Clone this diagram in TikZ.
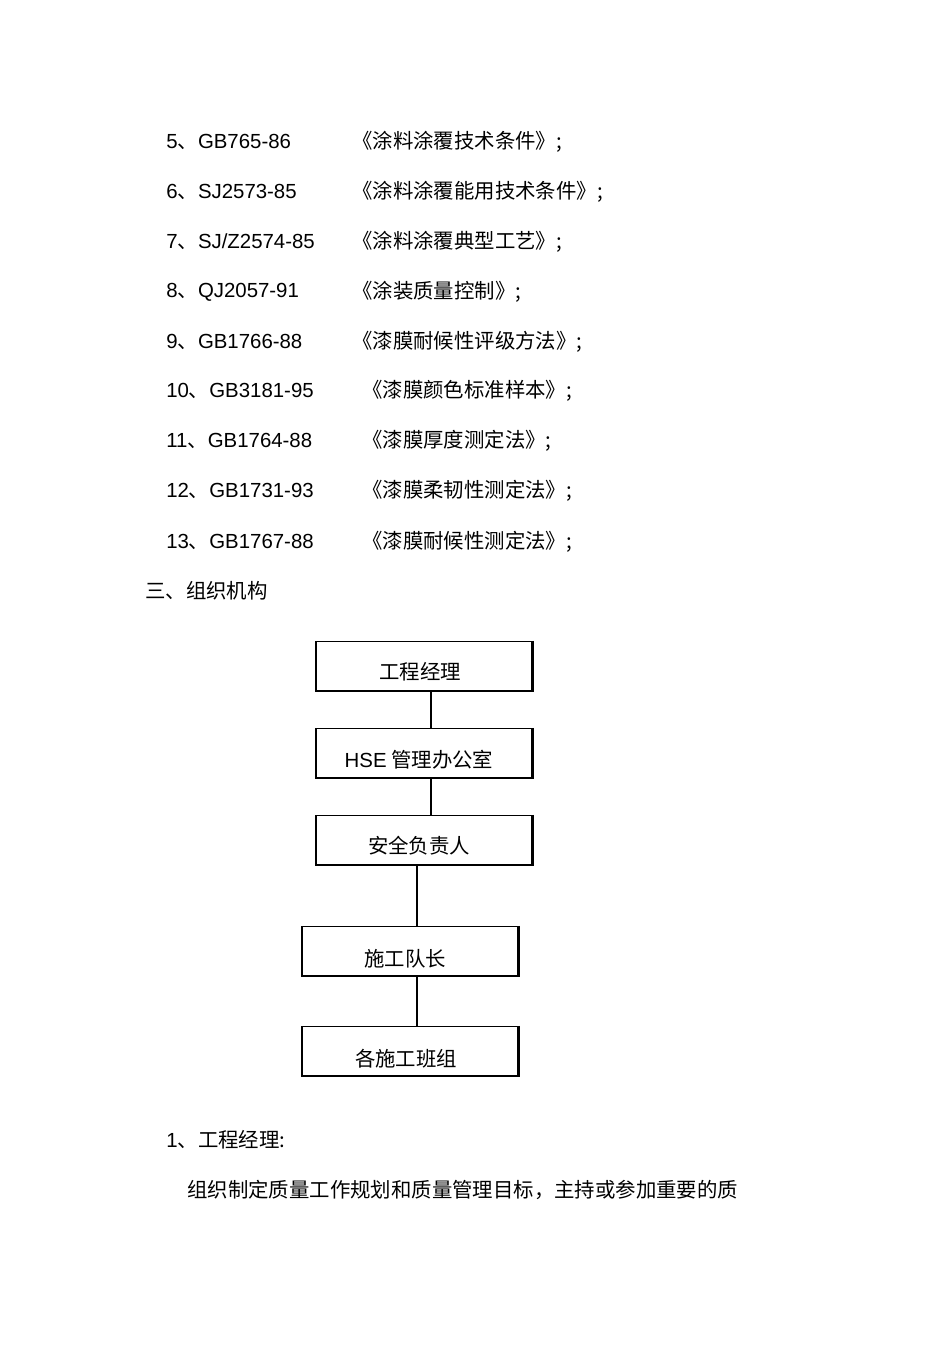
\documentclass[tikz,border=0pt]{standalone}
\usepackage{fontspec}
\setmainfont{Liberation Sans}
\newfontfamily\cjk{Noto Sans CJK SC}
\newcommand{\dn}{{\cjk 、}}
\begin{document}
\begin{tikzpicture}[x=0.75pt,y=-0.75pt,
  txt/.style={anchor=west,inner sep=0pt,font=\fontsize{15.3pt}{17pt}\selectfont\cjk},
  lat/.style={anchor=west,inner sep=0pt,font=\fontsize{15.3pt}{17pt}\selectfont},
  box/.style={draw,line width=0.8pt,minimum width=162pt,minimum height=36.75pt,inner sep=0pt},
  lbl/.style={inner sep=0pt,font=\fontsize{15.3pt}{17pt}\selectfont\cjk},
  shadowline/.style={line width=1.6pt},
  conn/.style={line width=0.9pt}]
\useasboundingbox (0,0) rectangle (950,1345);
\node[lat] (n5) at (166,142) {5\dn GB765-86};
\node[txt] (t5) at (352,142) {《涂料涂覆技术条件》;};
\node[lat] (n6) at (166,192) {6\dn SJ2573-85};
\node[txt] (t6) at (352,192) {《涂料涂覆能用技术条件》;};
\node[lat] (n7) at (166,242) {7\dn SJ/Z2574-85};
\node[txt] (t7) at (352,242) {《涂料涂覆典型工艺》;};
\node[lat] (n8) at (166,292) {8\dn QJ2057-91};
\node[txt] (t8) at (352,292) {《涂装质量控制》;};
\node[lat] (n9) at (166,342) {9\dn GB1766-88};
\node[txt] (t9) at (352,342) {《漆膜耐候性评级方法》;};
\node[lat] (n10) at (166,391) {10\dn  GB3181-95};
\node[txt] (t10) at (362,391) {《漆膜颜色标准样本》;};
\node[lat] (n11) at (166,441) {11\dn  GB1764-88};
\node[txt] (t11) at (362,441) {《漆膜厚度测定法》;};
\node[lat] (n12) at (166,491) {12\dn  GB1731-93};
\node[txt] (t12) at (362,491) {《漆膜柔韧性测定法》;};
\node[lat] (n13) at (166,542) {13\dn  GB1767-88};
\node[txt] (t13) at (362,542) {《漆膜耐候性测定法》;};
\node[txt] (h3) at (145,591) {三、组织机构};

\node[box] (b1) at (424,666) {};
\node[box] (b2) at (424,753) {};
\node[box] (b3) at (424,840) {};
\node[box] (b4) at (410,951) {};
\node[box] (b5) at (410,1051) {};
\node[lbl] (l1) at (420,672) {工程经理};
\node[lbl] (l2) at (419,760) {{\fontspec{Liberation Sans}HSE} 管理办公室};
\node[lbl] (l3) at (419,846) {安全负责人};
\node[lbl] (l4) at (405,959) {施工队长};
\node[lbl] (l5) at (406,1059) {各施工班组};
\foreach \b in {b1,b2,b3,b4,b5}{
  \draw[shadowline] (\b.north east) -- (\b.south east) -- (\b.south west);
}
\draw[conn] (b1.south -| 431,0) -- (b2.north -| 431,0);
\draw[conn] (b2.south -| 431,0) -- (b3.north -| 431,0);
\draw[conn] (b3.south -| 417,0) -- (b4.north -| 417,0);
\draw[conn] (b4.south -| 417,0) -- (b5.north -| 417,0);

\node[txt] (p1) at (166,1140) {{\fontspec{Liberation Sans}1}、工程经理:};
\node[txt] (p2) at (187,1190) {组织制定质量工作规划和质量管理目标，主持或参加重要的质};
\end{tikzpicture}
\end{document}
